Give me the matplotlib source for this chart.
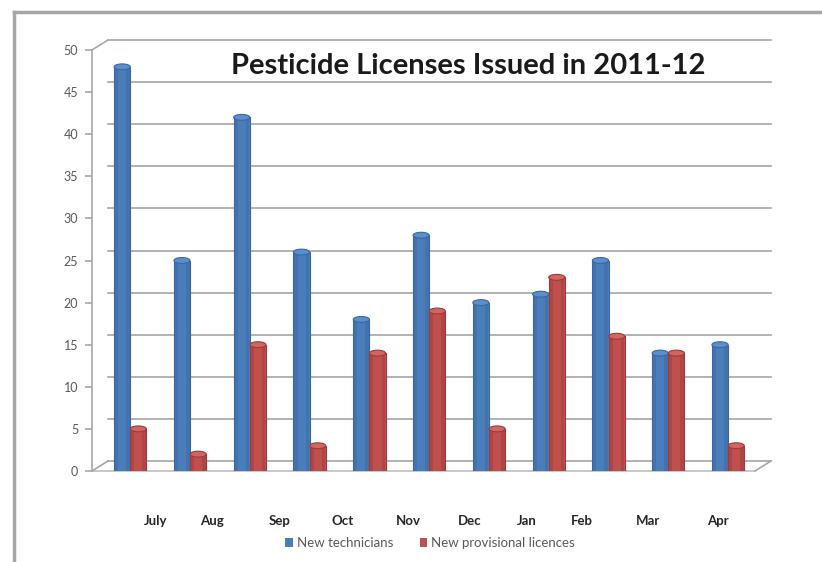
import numpy as np
import matplotlib
matplotlib.use("Agg")
import matplotlib.pyplot as plt
from matplotlib.patches import Patch, Ellipse
from matplotlib.lines import Line2D
from matplotlib.transforms import offset_copy

# data
groups = np.arange(11)
technicians = [48, 25, 42, 26, 18, 28, 20, 21, 25, 14, 15]
provisional = [5, 2, 15, 3, 14, 19, 5, 23, 16, 14, 3]
months = ["July", "Aug", "Sep", "Oct", "Nov", "Dec", "Jan", "Feb", "Mar", "Apr"]
# the month labels in the original sit off the bar groups
month_pos = [0.42, 1.37, 2.49, 3.56, 4.65, 5.67, 6.64, 7.56, 8.66, 9.83]
yticks = np.arange(0, 51, 5)

plt.rcParams["font.family"] = ["Lato", "DejaVu Sans"]

W, H = 822, 562
fig = plt.figure(figsize=(W / 100, H / 100), dpi=100)
fig.patch.set_facecolor("white")

# axes box in pixels: left 92, right 755, top 50, bottom 471
ax = fig.add_axes([92 / W, 1 - 471 / H, (755 - 92) / W, (471 - 50) / H])
ax.set_xlim(-0.64, 10.45)
ax.set_ylim(0, 50)
ax.patch.set_alpha(0)

grid_c = "#a6a6a6"
back = offset_copy(ax.transData, fig=fig, x=16, y=10, units="dots")
x0, x1 = ax.get_xlim()
for v in yticks:
    ax.plot([x0, x1], [v, v], color=grid_c, lw=1.2, transform=back,
            clip_on=False, zorder=0)
# floor front edge and depth edges
ax.plot([x0, x1], [0, 0], color="#bfbfbf", lw=1.2, clip_on=False, zorder=0)
for xe, ye in [(x0, 0), (x1, 0), (x0, 50)]:
    ax.annotate("", xy=(xe, ye), xycoords=back, xytext=(xe, ye),
                textcoords="data",
                arrowprops=dict(arrowstyle="-", color=grid_c, lw=1.2,
                                shrinkA=0, shrinkB=0))

w = 0.27
cap = 0.7
series = [(-w / 2, technicians, "#4a7ebb", "#3a67a0", "#5b8fcc"),
          (w / 2, provisional, "#c0504d", "#9c3b39", "#d06562")]
for dx, vals, fc, ec, top in series:
    ax.bar(groups + dx, vals, width=w, color=fc, edgecolor=ec,
           linewidth=0.8, zorder=3)
    # a darker strip on each side gives the cylinder some roundness
    ax.bar(groups + dx - w * 0.36, vals, width=w * 0.22, color=ec,
           linewidth=0, alpha=0.45, zorder=3.1)
    ax.bar(groups + dx + w * 0.36, vals, width=w * 0.22, color=ec,
           linewidth=0, alpha=0.45, zorder=3.1)
    for g, v in zip(groups, vals):
        ax.add_patch(Ellipse((g + dx, v), w, cap, facecolor=top,
                             edgecolor=ec, lw=0.8, zorder=3.2))

for s in ["top", "right", "bottom"]:
    ax.spines[s].set_visible(False)
ax.spines["left"].set_color(grid_c)
ax.spines["left"].set_linewidth(1.2)

ax.set_yticks(yticks)
ax.tick_params(axis="y", colors=grid_c, labelcolor="#595959", labelsize=9,
               length=5, width=1.2, pad=5)
ax.set_xticks(month_pos, months)
ax.tick_params(axis="x", length=0, pad=32, labelsize=9.5, labelcolor="#262626")
for t in ax.get_xticklabels():
    t.set_fontweight("bold")

fig.text(468 / W, 1 - 66 / H, "Pesticide Licenses Issued in 2011-12",
         ha="center", va="center", fontsize=21, fontweight="bold",
         color="#1a1a1a")

handles = [Patch(facecolor="#4a7ebb", label="New technicians"),
           Patch(facecolor="#c0504d", label="New provisional licences")]
fig.legend(handles=handles, loc="center", bbox_to_anchor=(430 / W, 1 - 543 / H),
           ncol=2, frameon=False, fontsize=9.5, handlelength=0.6,
           handleheight=0.6, handletextpad=0.3, columnspacing=2.0,
           labelcolor="#595959")

# outer chart frame, running off the right and bottom edges
fig.add_artist(Line2D([14 / W, 1.0], [1 - 12 / H, 1 - 12 / H],
                      transform=fig.transFigure, color="#a6a6a6", lw=2.5))
fig.add_artist(Line2D([14 / W, 14 / W], [0, 1 - 12 / H],
                      transform=fig.transFigure, color="#a6a6a6", lw=2.5))

fig.savefig("out.png", dpi=100)
